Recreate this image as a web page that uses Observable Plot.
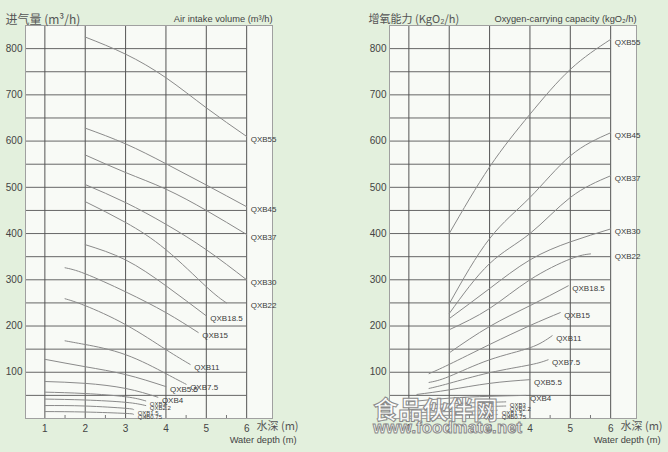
<!DOCTYPE html>
<html>
<head>
<meta charset="utf-8">
<script src="https://cdn.jsdelivr.net/npm/d3@7"></script>
<script src="https://cdn.jsdelivr.net/npm/@observablehq/plot@0.6"></script>
<style>
  html, body { margin: 0; padding: 0; background: #e3f0dd; }
  #wrap { position: relative; width: 668px; height: 452px; overflow: hidden; background: #e3f0dd; }
  .panel { position: absolute; top: 0; }
  .wm { position: absolute; color: rgba(255,255,255,0.85); -webkit-text-stroke: 1px #8a8a8a; font-weight: bold; white-space: nowrap; }
</style>
</head>
<body>
<div id="wrap"></div>
<script>
// ---- data ----
const models = ["QXB55", "QXB45", "QXB37", "QXB30", "QXB22", "QXB18.5", "QXB15", "QXB11", "QXB7.5", "QXB5.5", "QXB4", "QXB3", "QXB2.2", "QXB1.5", "QXB0.75"];

// Air intake volume (m³/h) vs water depth (m): [depth, value]
const airCurves = [
  [[2, 825], [3, 788], [4, 737], [5, 672], [6, 610]],
  [[2, 628], [3, 594], [4, 551], [5, 505], [6, 458]],
  [[2, 570], [3, 532], [4, 496], [5, 450], [6, 398]],
  [[2, 506], [3, 467], [4, 420], [5, 365], [6, 300]],
  [[2, 469], [3, 424], [4, 365], [5, 285], [5.5, 250]],
  [[2, 376], [3, 343], [4, 287], [5, 222]],
  [[1.5, 326], [2, 313], [3, 274], [4, 229], [4.8, 186]],
  [[1.5, 259], [2, 244], [3, 203], [4, 149], [4.6, 117]],
  [[1.5, 168], [2, 160], [3, 138], [4, 97], [4.5, 74]],
  [[1, 128], [2, 112], [3, 95], [4, 69]],
  [[1, 80], [2, 76], [3, 65], [3.8, 46]],
  [[1, 57], [2, 54], [3, 47], [3.5, 38]],
  [[1, 42], [2, 40], [3, 35], [3.5, 28]],
  [[1, 28], [2, 27], [3, 22], [3.2, 19]],
  [[1, 15], [2, 14], [3, 11], [3.2, 9]]
];

// Oxygen-carrying capacity (kgO₂/h) vs water depth (m): [depth, value]
const oxyCurves = [
  [[2, 400], [3, 544], [4, 658], [5, 755], [6, 820]],
  [[2, 248], [3, 389], [4, 478], [5, 568], [6, 618]],
  [[2, 227], [3, 335], [4, 400], [5, 478], [6, 525]],
  [[2, 216], [3, 281], [4, 343], [5, 382], [6, 410]],
  [[2, 192], [3, 238], [4, 300], [5, 345], [5.5, 356]],
  [[2, 142], [3, 199], [4, 244], [4.95, 287]],
  [[1.5, 97], [2, 117], [3, 160], [4, 201], [4.75, 229]],
  [[1.5, 78], [2, 91], [3, 127], [4, 153], [4.55, 179]],
  [[1.5, 65], [2, 76], [3, 99], [4, 116], [4.45, 127]],
  [[1.2, 52], [2, 62], [3, 76], [4, 84]],
  [[1, 36], [2, 44], [3, 48], [3.9, 50]],
  [[1, 26], [2, 32], [3, 35], [3.4, 36]],
  [[1, 19], [2, 23], [3, 26], [3.4, 27]],
  [[1, 12], [2, 15], [3, 17], [3.2, 18]],
  [[1, 5], [2, 7], [3, 8], [3.2, 9]]
];

const depthTicks = [1, 2, 3, 4, 5, 6];
const halfTicks = [1.5, 2.5, 3.5, 4.5, 5.5];
const valueTicks = [100, 200, 300, 400, 500, 600, 700, 800];
const gridValues = [50, 100, 150, 200, 250, 300, 350, 400, 450, 500, 550, 600, 650, 700, 750, 800];
const smallModels = ["QXB3", "QXB2.2", "QXB1.5", "QXB0.75"];

const titlesCN = ["进气量 (m³/h)", "增氧能力 (KgO₂/h)"];
const titlesEN = ["Air intake volume (m³/h)", "Oxygen-carrying capacity (kgO₂/h)"];
const axisCN = "水深 (m)";
const axisEN = "Water depth (m)";

// ---- drawing ----
const xDomain = [0.52, 6.64];
const yDomain = [0, 850];
const lastDepth = d3.max(depthTicks);
const cjk = "'Noto Sans CJK SC', sans-serif";
const latin = "'Liberation Sans', Arial, sans-serif";

function panel(curves, titleCN, titleEN, mLeft, mRight, cnDx, cnSize) {
  const data = curves.flatMap((pts, i) => pts.map(([d, v]) => ({model: models[i], depth: d, value: v})));
  return Plot.plot({
    width: 334,
    height: 452,
    marginTop: 25,
    marginBottom: 34,
    marginLeft: mLeft,
    marginRight: mRight,
    style: {background: "transparent", fontFamily: latin, fontSize: "10px", color: "#444", overflow: "visible"},
    x: {domain: xDomain, label: null},
    y: {domain: yDomain, label: null},
    marks: [
      Plot.frame({fill: "#f8faf6", stroke: null}),
      Plot.ruleY(gridValues, {x1: xDomain[0], x2: lastDepth, stroke: "#666", strokeWidth: 1}),
      Plot.ruleX(depthTicks, {stroke: "#555", strokeWidth: 1}),
      Plot.frame({stroke: "#a0a0a0"}),
      Plot.axisY(valueTicks, {tickSize: 0, tickPadding: 3, fontSize: 10, fill: "#444"}),
      Plot.axisX(depthTicks, {tickSize: 0, tickPadding: 6, fontSize: 10, fill: "#444"}),
      Plot.axisX(halfTicks, {tickSize: -3, tickFormat: () => "", stroke: "#777"}),
      Plot.line(data, {x: "depth", y: "value", z: "model", curve: "natural", stroke: "#8a8a8a", strokeWidth: 1}),
      Plot.text(data, Plot.selectLast({
        x: d => d.depth >= 5.5 ? lastDepth : d.depth,
        y: "value", z: "model", text: "model",
        textAnchor: "start", dx: 4, dy: 3,
        fontSize: d => smallModels.includes(d.model) ? 6 : 8,
        fill: "#3a3a3a"
      })),
      Plot.text([titleCN], {text: d => d, frameAnchor: "top-left", textAnchor: "start", dx: cnDx, dy: -10, fontSize: cnSize, fontFamily: cjk, fill: "#555"}),
      Plot.text([titleEN], {text: d => d, frameAnchor: "top-right", textAnchor: "end", dx: 0, dy: -10, fontSize: 9.3, fill: "#444"}),
      Plot.text([axisCN], {text: d => d, frameAnchor: "bottom-right", textAnchor: "start", dx: -16, dy: 11, fontSize: 11, fontFamily: cjk, fill: "#555"}),
      Plot.text([axisEN], {text: d => d, frameAnchor: "bottom-right", textAnchor: "end", dx: 24, dy: 24, fontSize: 9.3, fill: "#444"})
    ]
  });
}

const wrap = document.getElementById("wrap");
const left = panel(airCurves, titlesCN[0], titlesEN[0], 25, 62, -20, 12);
left.classList.add("panel");
left.style.left = "0px";
wrap.appendChild(left);

const right = panel(oxyCurves, titlesCN[1], titlesEN[1], 55, 32, -21, 11);
right.classList.add("panel");
right.style.left = "334px";
wrap.appendChild(right);

// watermark present in the reference image
const wm1 = document.createElement("div");
wm1.className = "wm";
wm1.textContent = "食品伙伴网";
wm1.style.cssText += "left:373px;top:390px;font-size:25px;font-family:" + cjk + ";";
wrap.appendChild(wm1);
const wm2 = document.createElement("div");
wm2.className = "wm";
wm2.textContent = "www.foodmate.net";
wm2.style.cssText += "left:373px;top:418px;font-size:16.5px;font-family:" + latin + ";letter-spacing:0.2px;";
wrap.appendChild(wm2);
</script>
</body>
</html>
